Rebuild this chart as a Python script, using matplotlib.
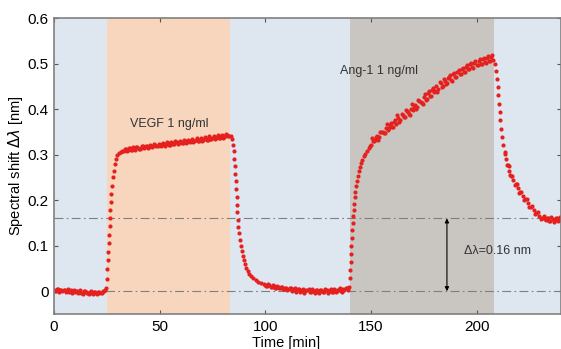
import numpy as np
import matplotlib.pyplot as plt

plt.rcParams['font.family'] = ['Liberation Sans', 'DejaVu Sans']

# phase boundaries (min)
VEGF_ON, VEGF_OFF = 25.2, 83.5
ANG_ON, ANG_OFF = 140.0, 208.5
DELTA = 0.16

# baseline before VEGF, sampled every 0.5 min (two interleaved sets)
base1_t = np.arange(0, 25)
base1_v = [0.003, 0.001, 0.004, 0.002, 0.000, 0.003, 0.001, -0.001, 0.002, 0.000,
           -0.002, 0.001, -0.001, -0.003, 0.000, -0.002, -0.004, -0.001, -0.003, -0.002,
           -0.004, -0.001, -0.003, 0.000, 0.002]
base1b_t = np.arange(0.5, 24.5)
base1b_v = [0.000, 0.005, -0.001, 0.003, 0.002, -0.002, 0.004, 0.000, -0.003, 0.003,
            0.000, -0.004, 0.002, -0.005, 0.001, -0.003, -0.006, 0.000, -0.005, -0.001,
            -0.006, -0.002, -0.004, 0.001]

rise1_t = [24.6, 25.0, 25.3, 25.5, 25.7, 25.9, 26.1, 26.3, 26.5, 26.7, 26.9, 27.2,
           27.5, 27.8, 28.2, 28.7, 29.3, 30.0, 30.8, 31.6, 32.4]
rise1_v = [0.008, 0.026, 0.048, 0.068, 0.086, 0.105, 0.124, 0.143, 0.160, 0.178, 0.196, 0.214,
           0.232, 0.250, 0.265, 0.280, 0.291, 0.300, 0.304, 0.306, 0.308]

plat1_t = np.arange(33, 84)
plat1_v = [0.309, 0.312, 0.310, 0.314, 0.311, 0.313, 0.316, 0.313, 0.315, 0.318,
           0.316, 0.319, 0.317, 0.320, 0.318, 0.321, 0.319, 0.322, 0.324, 0.321,
           0.323, 0.325, 0.322, 0.326, 0.324, 0.327, 0.325, 0.328, 0.326, 0.330,
           0.327, 0.329, 0.331, 0.328, 0.332, 0.330, 0.333, 0.331, 0.334, 0.336,
           0.333, 0.335, 0.337, 0.334, 0.338, 0.336, 0.340, 0.337, 0.341, 0.343,
           0.341]
plat1b_t = np.arange(33.5, 83.5)
plat1b_v = [0.313, 0.308, 0.315, 0.310, 0.316, 0.311, 0.317, 0.312, 0.319, 0.314,
            0.320, 0.315, 0.322, 0.316, 0.323, 0.318, 0.324, 0.319, 0.325, 0.320,
            0.327, 0.321, 0.328, 0.323, 0.329, 0.324, 0.330, 0.325, 0.332, 0.326,
            0.333, 0.328, 0.334, 0.329, 0.336, 0.330, 0.337, 0.332, 0.338, 0.333,
            0.340, 0.334, 0.341, 0.336, 0.342, 0.337, 0.344, 0.339, 0.345, 0.340]

fall1_t = [83.8, 84.3, 84.7, 85.0, 85.3, 85.6, 85.8, 86.0, 86.2, 86.4, 86.6, 86.8,
           87.0, 87.3, 87.6, 88.0, 88.4, 88.8, 89.3, 89.8, 90.4, 91.0, 91.7, 92.5,
           93.4, 94.4, 95.5, 96.7, 98.0, 99.3]
fall1_v = [0.340, 0.334, 0.322, 0.307, 0.291, 0.275, 0.258, 0.241, 0.224, 0.207, 0.190, 0.173,
           0.157, 0.142, 0.127, 0.113, 0.100, 0.089, 0.078, 0.068, 0.059, 0.051, 0.044, 0.038,
           0.033, 0.028, 0.024, 0.020, 0.017, 0.015]

base2_t = np.arange(100, 140)
base2_v = [0.014, 0.011, 0.013, 0.009, 0.012, 0.008, 0.010, 0.007, 0.009, 0.005,
           0.008, 0.004, 0.007, 0.003, 0.006, 0.002, 0.005, 0.001, 0.004, 0.000,
           0.003, -0.001, 0.004, 0.000, 0.003, -0.002, 0.002, 0.001, -0.001, 0.003,
           0.000, 0.004, -0.001, 0.003, 0.001, 0.005, 0.000, 0.004, 0.007, 0.002]
base2b_t = np.arange(100.5, 139.5)
base2b_v = [0.012, 0.015, 0.010, 0.013, 0.007, 0.011, 0.006, 0.010, 0.004, 0.008,
            0.002, 0.006, 0.001, 0.005, -0.001, 0.004, -0.002, 0.003, -0.003, 0.002,
            0.004, -0.002, 0.001, -0.004, 0.003, -0.003, 0.002, -0.002, 0.004, -0.003,
            0.002, -0.002, 0.005, -0.001, 0.003, 0.006, -0.001, 0.003, 0.008]

rise2_t = [139.6, 139.9, 140.2, 140.4, 140.6, 140.8, 141.0, 141.2, 141.4, 141.6, 141.8, 142.0,
           142.3, 142.6, 142.9, 143.3, 143.7, 144.2, 144.7, 145.3, 145.9, 146.6, 147.3, 148.1,
           148.9, 149.7]
rise2_v = [0.010, 0.028, 0.046, 0.064, 0.082, 0.100, 0.117, 0.134, 0.150, 0.165, 0.179, 0.192,
           0.206, 0.219, 0.231, 0.243, 0.254, 0.264, 0.273, 0.281, 0.289, 0.296, 0.302, 0.308,
           0.314, 0.319]

plat2_t = np.arange(150, 209)
plat2_v = [0.322, 0.330, 0.333, 0.341, 0.338, 0.350, 0.347, 0.358, 0.355, 0.366,
           0.361, 0.372, 0.368, 0.380, 0.375, 0.386, 0.382, 0.396, 0.390, 0.401,
           0.398, 0.410, 0.404, 0.418, 0.413, 0.426, 0.420, 0.435, 0.429, 0.442,
           0.437, 0.450, 0.444, 0.458, 0.451, 0.462, 0.458, 0.470, 0.463, 0.476,
           0.471, 0.482, 0.476, 0.488, 0.482, 0.493, 0.488, 0.498, 0.492, 0.502,
           0.496, 0.505, 0.500, 0.509, 0.503, 0.512, 0.506, 0.515, 0.508]
plat2b_t = np.arange(150.5, 208.5)
plat2b_v = [0.336, 0.329, 0.339, 0.332, 0.350, 0.349, 0.347, 0.367, 0.359, 0.369,
            0.360, 0.375, 0.386, 0.372, 0.389, 0.383, 0.399, 0.393, 0.388, 0.411,
            0.404, 0.401, 0.421, 0.415, 0.411, 0.434, 0.423, 0.440, 0.429, 0.447,
            0.440, 0.437, 0.459, 0.448, 0.465, 0.454, 0.468, 0.474, 0.461, 0.479,
            0.470, 0.486, 0.477, 0.491, 0.482, 0.497, 0.488, 0.501, 0.491, 0.506,
            0.497, 0.511, 0.499, 0.513, 0.502, 0.516, 0.505, 0.518]

fall2_t = [208.8, 209.2, 209.6, 210.0, 210.3, 210.6, 210.9, 211.3, 211.7, 212.2, 212.7, 213.3,
           214.0, 214.8, 215.6, 216.5, 217.5, 218.5, 219.6, 220.7, 221.9, 223.1, 224.4, 225.7,
           227.0, 228.4, 229.8, 231.2, 232.6]
fall2_v = [0.500, 0.484, 0.466, 0.448, 0.430, 0.412, 0.394, 0.375, 0.356, 0.338, 0.321, 0.305,
           0.290, 0.277, 0.265, 0.254, 0.244, 0.235, 0.226, 0.218, 0.210, 0.202, 0.194, 0.186,
           0.179, 0.172, 0.166, 0.161, 0.158]
fall2b_t = [213.6, 214.4, 215.2, 216.0, 217.0, 218.0, 219.0, 220.1, 221.3, 222.5, 223.7, 225.0,
            226.3, 227.7, 229.1, 230.5, 231.9]
fall2b_v = [0.302, 0.278, 0.276, 0.255, 0.252, 0.233, 0.236, 0.216, 0.219, 0.200, 0.203, 0.184,
            0.187, 0.170, 0.174, 0.158, 0.165]

base3_t = np.arange(233, 241)
base3_v = [0.157, 0.160, 0.155, 0.159, 0.156, 0.160, 0.157, 0.158]
base3b_t = np.arange(233.5, 240.5)
base3b_v = [0.161, 0.154, 0.162, 0.153, 0.161, 0.155, 0.162]

t = np.concatenate([base1_t, base1b_t, rise1_t, plat1_t, plat1b_t, fall1_t, base2_t, base2b_t,
                    rise2_t, plat2_t, plat2b_t, fall2_t, fall2b_t, base3_t, base3b_t])
v = np.concatenate([base1_v, base1b_v, rise1_v, plat1_v, plat1b_v, fall1_v, base2_v, base2b_v,
                    rise2_v, plat2_v, plat2b_v, fall2_v, fall2b_v, base3_v, base3b_v])

fig = plt.figure(figsize=(5.61, 3.49), dpi=100)
ax = fig.add_axes([0.0963, 0.1003, 0.9037, 0.8481])

ax.set_facecolor('#dee6f0')
ax.axvspan(VEGF_ON, VEGF_OFF, color='#f7d6bd', lw=0)
ax.axvspan(ANG_ON, ANG_OFF, color='#c9c6c2', lw=0)

for y in (0, DELTA):
    ax.axhline(y, color='#7f7f7f', lw=0.8, ls=(0, (8, 3, 1.5, 3)))

ax.plot(t, v, 'o', color='#e5211f', ms=3.0, mew=0)

ax.annotate('', xy=(186, 0), xytext=(186, DELTA),
            arrowprops=dict(arrowstyle='<|-|>', color='black', lw=0.8,
                            mutation_scale=6, shrinkA=0, shrinkB=0))

ax.text(36, 0.368, 'VEGF 1 ng/ml', fontsize=9, color='#333333', va='center')
ax.text(135.5, 0.484, 'Ang-1 1 ng/ml', fontsize=9, color='#333333', va='center')
ax.text(194, 0.088, 'Δλ=0.16 nm', fontsize=9, color='#333333', va='center')

ax.set_xlim(0, 240)
ax.set_ylim(-0.05, 0.6)
ax.set_xticks([0, 50, 100, 150, 200])
ax.set_yticks([0, 0.1, 0.2, 0.3, 0.4, 0.5, 0.6])
ax.set_yticklabels(['0', '0.1', '0.2', '0.3', '0.4', '0.5', '0.6'])
ax.tick_params(direction='in', top=True, right=True, length=3, width=0.8,
               color='#555555', labelsize=11, pad=4)
for s in ax.spines.values():
    s.set_color('#808080')
    s.set_linewidth(1.2)

ax.set_xlabel('Time [min]', fontsize=10.5)
ax.xaxis.set_label_coords(0.458, -0.075)
ax.set_ylabel('Spectral shift $\\Delta\\lambda$ [nm]', fontsize=10.5, labelpad=2)

plt.savefig('out.png', dpi=100)
plt.close()
